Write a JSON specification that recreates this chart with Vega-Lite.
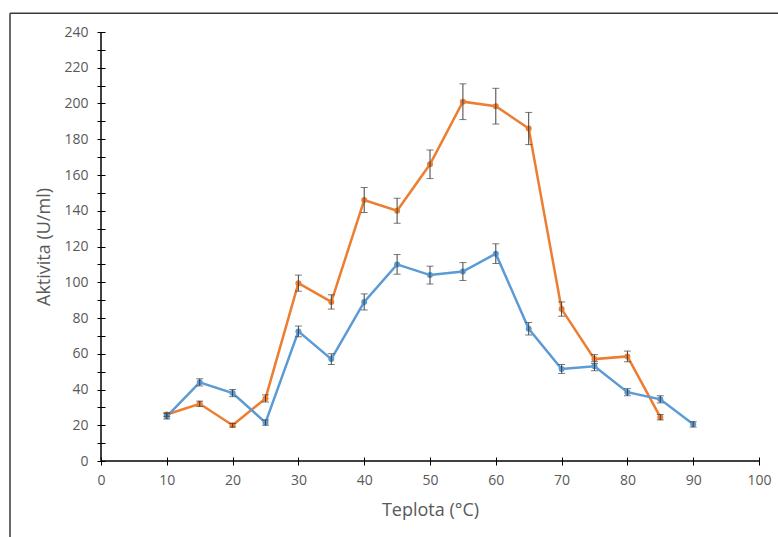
{
  "$schema": "https://vega.github.io/schema/vega-lite/v6.json",
  "width": 658,
  "height": 429,
  "autosize": {"type": "none"},
  "padding": {"left": 101, "top": 32, "right": 19, "bottom": 76},
  "background": "white",
  "config": {
    "view": {"stroke": null},
    "font": "Open Sans",
    "axis": {"labelOverlap": false, "labelFlush": false, "grid": false, "domain": false}
  },
  "resolve": {"axis": {"y": "independent"}},
  "data": {
    "values": [
      {"t": 10, "s": "A", "v": 26, "e": 1},
      {"t": 15, "s": "A", "v": 32, "e": 1.5},
      {"t": 20, "s": "A", "v": 20, "e": 1},
      {"t": 25, "s": "A", "v": 35, "e": 2},
      {"t": 30, "s": "A", "v": 99.5, "e": 4.5},
      {"t": 35, "s": "A", "v": 89, "e": 4},
      {"t": 40, "s": "A", "v": 146, "e": 7},
      {"t": 45, "s": "A", "v": 140, "e": 7},
      {"t": 50, "s": "A", "v": 166, "e": 8},
      {"t": 55, "s": "A", "v": 201, "e": 10},
      {"t": 60, "s": "A", "v": 198.5, "e": 10},
      {"t": 65, "s": "A", "v": 186, "e": 9},
      {"t": 70, "s": "A", "v": 85, "e": 4},
      {"t": 75, "s": "A", "v": 57, "e": 2.5},
      {"t": 80, "s": "A", "v": 58.5, "e": 3},
      {"t": 85, "s": "A", "v": 24.5, "e": 1.5},
      {"t": 10, "s": "B", "v": 25, "e": 1.5},
      {"t": 15, "s": "B", "v": 44, "e": 2},
      {"t": 20, "s": "B", "v": 38, "e": 2},
      {"t": 25, "s": "B", "v": 21.5, "e": 1.5},
      {"t": 30, "s": "B", "v": 72.5, "e": 3},
      {"t": 35, "s": "B", "v": 57, "e": 3},
      {"t": 40, "s": "B", "v": 89, "e": 4.5},
      {"t": 45, "s": "B", "v": 110, "e": 5.5},
      {"t": 50, "s": "B", "v": 104, "e": 5},
      {"t": 55, "s": "B", "v": 106, "e": 5},
      {"t": 60, "s": "B", "v": 116, "e": 5.5},
      {"t": 65, "s": "B", "v": 74, "e": 3.5},
      {"t": 70, "s": "B", "v": 51.5, "e": 2.5},
      {"t": 75, "s": "B", "v": 53, "e": 2.5},
      {"t": 80, "s": "B", "v": 38.5, "e": 2},
      {"t": 85, "s": "B", "v": 34.5, "e": 2},
      {"t": 90, "s": "B", "v": 20.5, "e": 1.5}
    ]
  },
  "layer": [
    {
      "mark": {"type": "line", "strokeWidth": 2.5, "point": {"size": 36, "filled": true}},
      "encoding": {
        "x": {
          "field": "t", "type": "quantitative",
          "scale": {"domain": [0, 100], "nice": false, "zero": false},
          "title": "Teplota (°C)",
          "axis": {
            "values": [0,5,10,15,20,25,30,35,40,45,50,55,60,65,70,75,80,85,90,95,100],
            "labelExpr": "datum.value % 10 === 0 ? datum.label : ''",
            "labelOverlap": false, "labelFlush": false,
            "offset": -4, "tickSize": 8, "tickColor": "#000000", "tickWidth": 1,
            "domain": false, "grid": false,
            "labelPadding": 8, "labelFontSize": 14, "labelColor": "#595959",
            "titleFontSize": 18, "titleFontWeight": "normal", "titleColor": "#595959", "titlePadding": 14
          }
        },
        "y": {
          "field": "v", "type": "quantitative",
          "scale": {"domain": [0, 240], "nice": false},
          "title": "Aktivita (U/ml)",
          "axis": {
            "orient": "left",
            "values": [0,20,40,60,80,100,120,140,160,180,200,220,240],
            "labelOverlap": false, "labelFlush": false,
            "offset": -4, "tickSize": 8, "tickColor": "#000000", "tickWidth": 1,
            "domain": false, "grid": false,
            "labelPadding": 9, "labelFontSize": 14, "labelColor": "#595959",
            "titleFontSize": 18, "titleFontWeight": "normal", "titleColor": "#595959", "titlePadding": 10
          }
        },
        "color": {
          "field": "s", "type": "nominal",
          "scale": {"domain": ["A", "B"], "range": ["#ED7D31", "#5B9BD5"]},
          "legend": null
        }
      }
    },
    {
      "mark": {"type": "errorbar", "color": "#404040", "thickness": 1, "ticks": {"size": 7, "color": "#404040"}},
      "encoding": {
        "x": {"field": "t", "type": "quantitative", "title": "Teplota (°C)"},
        "y": {
          "field": "v", "type": "quantitative",
          "axis": {
            "orient": "left", "title": null, "labels": false,
            "values": [10,30,50,70,90,110,130,150,170,190,210,230],
            "offset": -4, "tickSize": 8, "tickColor": "#000000", "tickWidth": 1,
            "domain": false, "grid": false
          }
        },
        "yError": {"field": "e"}
      }
    },
    {
      "data": {"values": [{}]},
      "mark": {"type": "rule", "color": "#000000", "strokeWidth": 1.5},
      "encoding": {"x": {"datum": 0}, "x2": {"datum": 100}, "y": {"datum": 0, "axis": null}}
    },
    {
      "data": {"values": [{}]},
      "mark": {"type": "rule", "color": "#000000", "strokeWidth": 1.5},
      "encoding": {"x": {"datum": 0}, "y": {"datum": 0, "axis": null}, "y2": {"datum": 240}}
    },
    {
      "data": {"values": [{}]},
      "mark": {"type": "rule", "color": "#3a3a3a", "strokeWidth": 1.5},
      "encoding": {"x": {"datum": -13.83}, "y": {"datum": 250.5, "axis": null}, "y2": {"datum": -60}}
    },
    {
      "data": {"values": [{}]},
      "mark": {"type": "rule", "color": "#3a3a3a", "strokeWidth": 1.5},
      "encoding": {"x": {"datum": -13.83}, "x2": {"datum": 120}, "y": {"datum": 250.5, "axis": null}}
    }
  ]
}
